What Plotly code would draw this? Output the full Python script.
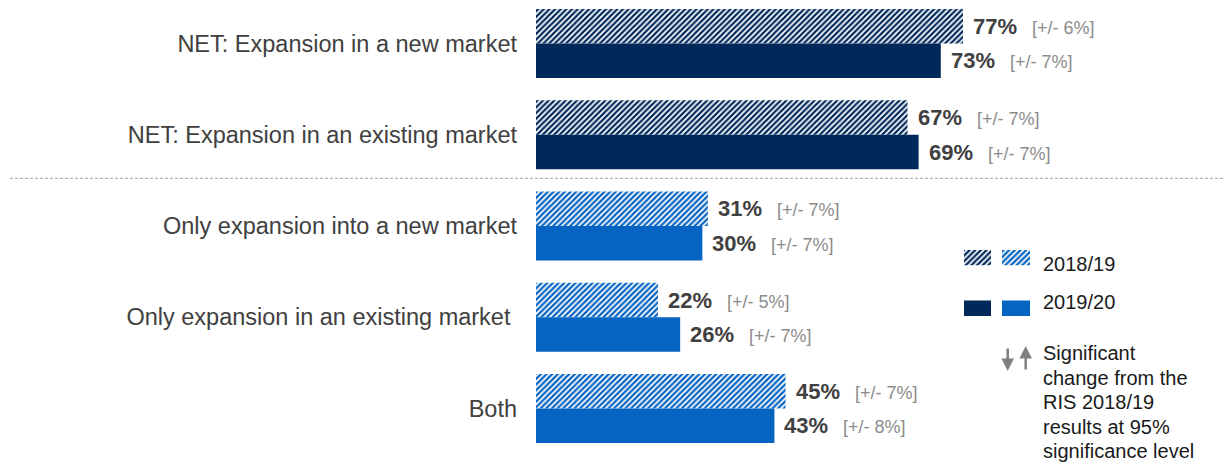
import plotly.graph_objects as go

# ---- data ----
categories = [
    "NET: Expansion in a new market",
    "NET: Expansion in an existing market",
    "Only expansion into a new market",
    "Only expansion in an existing market\u00a0",
    "Both",
]
pct_2018_19 = [77, 67, 31, 22, 45]
pct_2019_20 = [73, 69, 30, 26, 43]
moe_2018_19 = [6, 7, 7, 5, 7]
moe_2019_20 = [7, 7, 7, 7, 8]
series_names = ["2018/19", "2019/20"]
note_lines = ["Significant", "change from the", "RIS 2018/19", "results at 95%", "significance level"]

# ---- styling ----
NAVY = "#00285A"
BLUE = "#0563C1"
bar_colors = [NAVY, NAVY, BLUE, BLUE, BLUE]
FONT = "Liberation Sans, Arial, sans-serif"
TXT = "#404040"
GREY = "#8c8c8c"
HATCH = dict(shape="/", bgcolor="white", size=4, solidity=0.55, fillmode="replace")

W, H = 1224, 464
L = 536
PX_PER_PCT = 5.545
HALF = 0.189  # half of a grouped bar's height in category units

ypos = list(range(len(categories)))

fig = go.Figure()

fig.add_trace(go.Bar(
    name=series_names[0], y=ypos, x=pct_2018_19, orientation="h",
    marker=dict(color=bar_colors, line=dict(width=0),
                pattern=dict(fgcolor=bar_colors, **HATCH)),
    hoverinfo="skip",
))
fig.add_trace(go.Bar(
    name=series_names[1], y=ypos, x=pct_2019_20, orientation="h",
    marker=dict(color=bar_colors, line=dict(width=0)),
    hoverinfo="skip",
))

# value + margin-of-error labels at the end of each bar
def value_label(v, m):
    return (f"<b>{v}%</b><span style='font-size:18px;color:{GREY}'>"
            f"\u00a0\u00a0\u00a0[+/- {m}%]</span>")

annotations = []
for i in ypos:
    for vals, moes, off in ((pct_2018_19, moe_2018_19, -HALF), (pct_2019_20, moe_2019_20, HALF)):
        annotations.append(dict(
            x=vals[i], y=i + off, xref="x", yref="y",
            text=value_label(vals[i], moes[i]), showarrow=False,
            xanchor="left", yanchor="middle", xshift=8,
            font=dict(family=FONT, size=22, color=TXT),
        ))

def px_x(px):
    return (px - L) / (W - L)

def px_y(py):
    return 1 - py / H

# legend swatches drawn on a small hidden axis pair
sw_rows = [263.7, 302.0]
fig.add_trace(go.Bar(
    y=[sw_rows[0], sw_rows[0]], x=[27, 28], base=[964, 1002], orientation="h",
    width=17.5, xaxis="x2", yaxis="y2", hoverinfo="skip",
    marker=dict(color=[NAVY, BLUE], line=dict(width=0),
                pattern=dict(fgcolor=[NAVY, BLUE], **HATCH)),
))
fig.add_trace(go.Bar(
    y=[sw_rows[1], sw_rows[1]], x=[27, 28], base=[964, 1002], orientation="h",
    width=17.5, xaxis="x2", yaxis="y2", hoverinfo="skip",
    marker=dict(color=[NAVY, BLUE], line=dict(width=0)),
))

for name, row in zip(series_names, sw_rows):
    annotations.append(dict(
        x=px_x(1041), y=px_y(row), xref="paper", yref="paper",
        text=name, showarrow=False, xanchor="left", yanchor="middle",
        font=dict(family=FONT, size=20, color="#1a1a1a"),
    ))

# significance note
for k, line in enumerate(note_lines):
    annotations.append(dict(
        x=px_x(1041), y=px_y(353 + 24.5 * k), xref="paper", yref="paper",
        text=line, showarrow=False, xanchor="left", yanchor="middle",
        font=dict(family=FONT, size=20, color="#1a1a1a"),
    ))

# down / up arrows
for xh, yh, ay in ((1007.7, 371, -24), (1025.7, 346, 25)):
    annotations.append(dict(
        x=px_x(xh), y=px_y(yh), xref="paper", yref="paper",
        ax=0, ay=ay, text="", showarrow=True,
        arrowhead=2, arrowsize=1, arrowwidth=2.5, arrowcolor="#7f7f7f",
        standoff=0, startstandoff=0,
    ))

fig.update_layout(
    width=W, height=H,
    margin=dict(l=L, r=0, t=0, b=0),
    paper_bgcolor="white", plot_bgcolor="white",
    barmode="group", bargap=0.244, bargroupgap=0,
    showlegend=False,
    font=dict(family=FONT, color=TXT),
    xaxis=dict(visible=False, range=[0, (W - L) / PX_PER_PCT]),
    yaxis=dict(
        tickvals=ypos, ticktext=categories,
        range=[4 + (H - 408.5) / 91.25, -43.5 / 91.25],
        showgrid=False, zeroline=False, showline=False, ticks="",
        ticklabelstandoff=18,
        tickfont=dict(family=FONT, size=23.5, color=TXT),
    ),
    xaxis2=dict(visible=False, domain=[px_x(964), px_x(1030)], range=[964, 1030],
                anchor="y2", fixedrange=True),
    yaxis2=dict(visible=False, domain=[px_y(316), px_y(250)], range=[316, 250],
                anchor="x2", fixedrange=True),
    annotations=annotations,
    shapes=[dict(
        type="line", xref="paper", yref="paper",
        x0=px_x(10), x1=1.0, y0=px_y(178.3), y1=px_y(178.3),
        line=dict(color="#a0a0a0", width=1, dash="3px,2px"),
    )],
)

fig.write_html("out.html")
